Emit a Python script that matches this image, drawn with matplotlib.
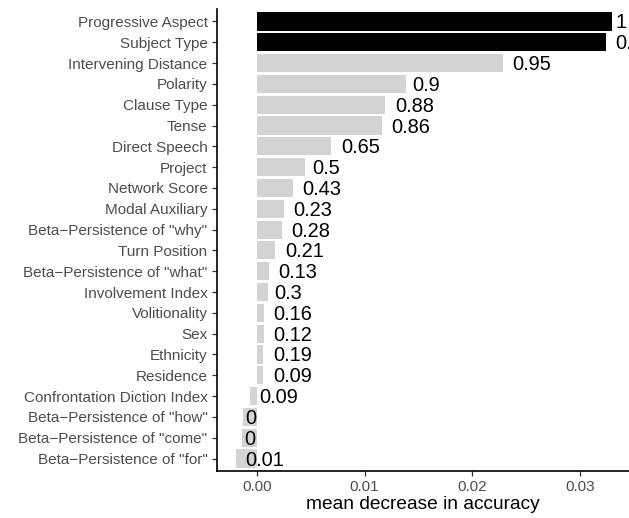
import matplotlib
matplotlib.use("Agg")
import matplotlib.pyplot as plt
import matplotlib.transforms as mtransforms

plt.rcParams["font.family"] = ["Liberation Sans", "DejaVu Sans"]

features = ["Progressive Aspect", "Subject Type", "Intervening Distance", "Polarity",
            "Clause Type", "Tense", "Direct Speech", "Project", "Network Score",
            "Modal Auxiliary", "Beta\u2212Persistence of \"why\"", "Turn Position",
            "Beta\u2212Persistence of \"what\"", "Involvement Index", "Volitionality",
            "Sex", "Ethnicity", "Residence", "Confrontation Diction Index",
            "Beta\u2212Persistence of \"how\"", "Beta\u2212Persistence of \"come\"",
            "Beta\u2212Persistence of \"for\""]
importance = [0.0330, 0.0324, 0.0228, 0.0138, 0.0119, 0.0116, 0.0069, 0.0045, 0.0033,
              0.0025, 0.0023, 0.0017, 0.0011, 0.0010, 0.00065, 0.00065, 0.0006,
              0.0006, -0.00065, -0.0013, -0.0014, -0.00195]
labels = ["1", "0.99", "0.95", "0.9", "0.88", "0.86", "0.65", "0.5", "0.43", "0.23",
          "0.28", "0.21", "0.13", "0.3", "0.16", "0.12", "0.19", "0.09", "0.09",
          "0", "0", "0.01"]
significant = [True, True] + [False] * (len(features) - 2)

fig = plt.figure(figsize=(6.29, 5.18), dpi=100)
ax = fig.add_axes([217 / 629, 47 / 518, 1 - 217 / 629, 1 - 47 / 518 - 9 / 518])

n = len(features)
ypos = list(range(n))[::-1]
colors = ["black" if s else "#D3D3D3" for s in significant]
ax.barh(ypos, importance, height=0.87, color=colors)

ax.set_ylim(-0.6, n - 0.4)
ax.set_xlim(-0.00371, 0.03454)
ax.set_yticks(ypos)
ax.set_yticklabels(features)
ax.set_xticks([0.0, 0.01, 0.02, 0.03])
ax.set_xticklabels(["0.00", "0.01", "0.02", "0.03"])
ax.tick_params(axis="both", colors="#333333", labelcolor="#4D4D4D", labelsize=11,
               length=3.6, width=0.9, pad=3.2)
ax.set_xlabel("mean decrease in accuracy", fontsize=13.8, labelpad=1)

for side in ["top", "right"]:
    ax.spines[side].set_visible(False)
for side in ["left", "bottom"]:
    ax.spines[side].set_linewidth(1.2)

# value labels, pushed right by a quarter of their own width
renderer = fig.canvas.get_renderer()
texts = []
for y, v, lab in zip(ypos, importance, labels):
    t = ax.text(v, y, lab, ha="left", va="center", fontsize=14.4, clip_on=True)
    texts.append(t)
for t in texts:
    w = t.get_window_extent(renderer).width
    t.set_transform(ax.transData + mtransforms.ScaledTranslation(0.25 * w / fig.dpi, -1.5 / fig.dpi, fig.dpi_scale_trans))

fig.savefig("out.png", dpi=100)
